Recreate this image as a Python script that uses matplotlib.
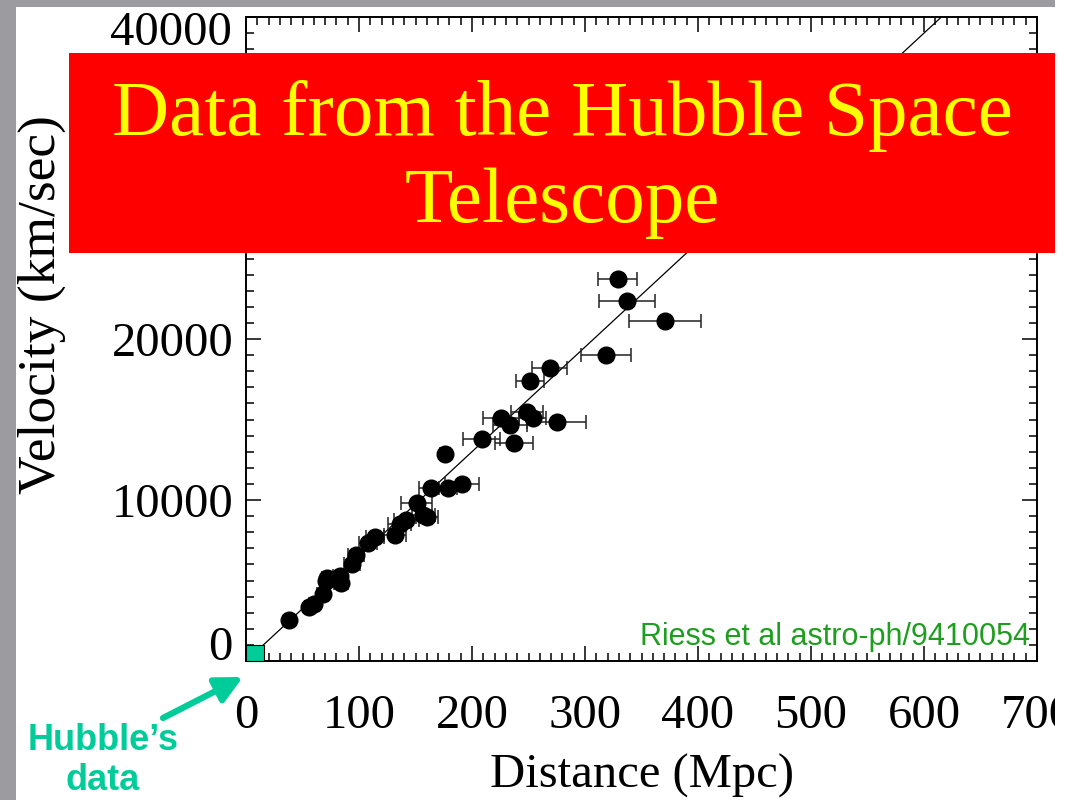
import matplotlib
matplotlib.use("Agg")
import matplotlib.pyplot as plt
from matplotlib.patches import Rectangle
from matplotlib.ticker import MultipleLocator, FuncFormatter

# Riess et al: distance (Mpc), velocity (km/s), distance error (Mpc)
distance = [38, 56, 60, 68, 71, 72, 83, 84, 94, 97, 108, 114,
            132, 136, 142, 151, 157, 160, 164, 179, 191, 176,
            208.5, 226, 234, 237.4, 248.4, 253.7, 275, 251.3, 269,
            318.6, 329, 337, 370.8]
velocity = [2550, 3380, 3520, 4150, 4950, 5150, 5250, 4850, 6050, 6600, 7300, 7700,
            7850, 8500, 8750, 9830, 9050, 8950, 10720, 10720, 11010, 12860,
            13770, 15070, 14660, 13560, 15480, 15070, 14820, 17390, 18210,
            19000, 23710, 22370, 21130]
dist_err = [3, 4, 4, 5, 5, 5, 6, 6, 7, 7, 8, 8,
            10, 10, 11, 14, 10, 10, 11, 8, 15, 4,
            16.5, 16, 15, 16.7, 14, 12, 26, 12.8, 15.5,
            22, 17.4, 25, 31.5]

H0 = 65  # slope of the fitted line, km/s/Mpc
fit_x = [0, 700]
fit_y = [0, H0 * 700]

serif = ['Liberation Serif', 'DejaVu Serif']
sans = ['Liberation Sans', 'DejaVu Sans']

fig = plt.figure(figsize=(10.69, 8), dpi=100, facecolor='white')
ax = fig.add_axes([246/1069, 1 - 661/800, (1037-246)/1069, (661-17)/800])

ax.plot(fit_x, fit_y, color='black', lw=0.9, zorder=2)
ax.errorbar(distance, velocity, xerr=dist_err, fmt='o', color='black',
            ms=12, ecolor='#222222', elinewidth=1.1, capsize=5, capthick=1.1, zorder=3)

# Hubble's own data range
ax.add_patch(Rectangle((0, 0), 16, 1000, facecolor='#00cc99', edgecolor='black',
                       lw=0.8, zorder=4, clip_on=False))

ax.set_xlim(0, 700)
ax.set_ylim(0, 40000)
ax.xaxis.set_major_locator(MultipleLocator(100))
ax.xaxis.set_minor_locator(MultipleLocator(10))
ax.yaxis.set_major_locator(MultipleLocator(10000))
ax.yaxis.set_minor_locator(MultipleLocator(1000))
# end labels of the y axis are drawn by hand, nudged inwards
ax.yaxis.set_major_formatter(FuncFormatter(
    lambda v, p: '' if v in (0, 40000) else '%d' % v))
ax.tick_params(which='both', direction='in', top=True, right=True, width=1.1)
ax.tick_params(which='major', length=11)
ax.tick_params(which='minor', length=5.5)
ax.tick_params(axis='x', which='major', pad=24)
ax.tick_params(axis='y', which='major', pad=9)
for lab in ax.get_xticklabels() + ax.get_yticklabels():
    lab.set_family(serif)
    lab.set_fontsize(35)
for sp in ax.spines.values():
    sp.set_linewidth(1.4)

for val, dy in [(0, 13), (40000, -16)]:
    ax.annotate('%d' % val, xy=(0, val), xycoords=('axes fraction', 'data'),
                xytext=(-14, dy), textcoords='offset pixels', family=serif,
                fontsize=35, ha='right', va='center', annotation_clip=False)

ax.set_xlabel('Distance (Mpc)', family=serif, fontsize=35, labelpad=11)
ax.set_ylabel('Velocity (km/sec)', family=serif, fontsize=38.5)
ax.yaxis.set_label_coords((66 - 246) / 791, (661 - 305) / 644)

ax.text(694, 990, 'Riess et al astro-ph/9410054', family=sans, fontsize=22,
        color='#1e9e1e', ha='right', va='baseline', zorder=5)

# stone-coloured slide edges
fig.patches.append(Rectangle((0, 0), 16/1069, 1, transform=fig.transFigure,
                             facecolor='#9c9ba0', edgecolor='none', zorder=1))
fig.patches.append(Rectangle((0, 793/800), 1, 7/800, transform=fig.transFigure,
                             facecolor='#9c9ba0', edgecolor='none', zorder=1))

# red title banner
fig.patches.append(Rectangle((69/1069, 1 - 253/800), (1055-69)/1069, 200/800,
                             transform=fig.transFigure, facecolor='#ff0000',
                             edgecolor='none', zorder=5))
fig.text(562/1069, 1 - 135/800, 'Data from the Hubble Space', family=serif,
         fontsize=57, color='#ffff00', ha='center', va='baseline', zorder=6)
fig.text(562/1069, 1 - 222/800, 'Telescope', family=serif,
         fontsize=57, color='#ffff00', ha='center', va='baseline', zorder=6)

# white strip on the right clips the last tick label
fig.patches.append(Rectangle((1055/1069, 0), 14/1069, 1, transform=fig.transFigure,
                             facecolor='white', edgecolor='none', zorder=7))

# Hubble's data arrow and label
ax.annotate('', xy=(243/1069, 123/800), xytext=(163/1069, 82/800),
            xycoords='figure fraction', textcoords='figure fraction',
            arrowprops=dict(arrowstyle='-|>,head_length=0.8,head_width=0.4',
                            mutation_scale=20, lw=4.5, color='#00cc99',
                            shrinkA=0, shrinkB=0),
            annotation_clip=False)
fig.text(103/1069, 1 - 740/800, 'Hubble\u2019s', family=sans, fontsize=26,
         fontweight='bold', color='#00cc99', ha='center', va='center')
fig.text(103/1069, 1 - 780/800, 'data', family=sans, fontsize=26,
         fontweight='bold', color='#00cc99', ha='center', va='center')

fig.savefig('out.png', dpi=100, facecolor='white')
